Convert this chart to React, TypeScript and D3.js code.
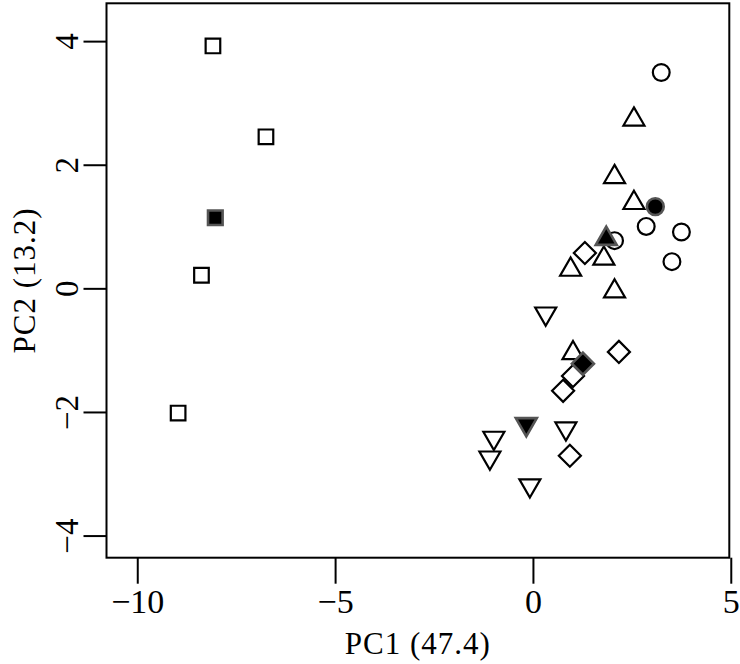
import * as d3 from "d3";

// PCA scores, one pair of arrays per group
const squarePC1 = [-8.10, -6.76, -8.39, -8.98];
const squarePC2 = [3.93, 2.46, 0.22, -2.01];
const circlePC1 = [3.23, 2.85, 3.74, 3.50, 2.05];
const circlePC2 = [3.50, 1.01, 0.92, 0.44, 0.78];
const triUpPC1 = [2.54, 2.05, 2.54, 1.78, 0.94, 2.05, 1.00];
const triUpPC2 = [2.74, 1.81, 1.39, 0.49, 0.31, -0.04, -1.04];
const diamondPC1 = [1.30, 1.00, 0.75, 2.16, 0.92];
const diamondPC2 = [0.58, -1.41, -1.65, -1.02, -2.70];
const triDownPC1 = [0.31, -1.00, -1.10, 0.82, -0.09];
const triDownPC2 = [-0.40, -2.41, -2.73, -2.26, -3.18];

// group centroids (the filled symbols)
const centroidShape = ["square", "circle", "triUp", "diamond", "triDown"];
const centroidPC1 = [-8.04, 3.08, 1.84, 1.25, -0.18];
const centroidPC2 = [1.15, 1.33, 0.81, -1.21, -2.19];

const xTicks = [-10, -5, 0, 5];
const yTicks = [-4, -2, 0, 2, 4];
const xTitle = "PC1 (47.4)";
const yTitle = "PC2 (13.2)";

const W = 740;
const H = 664;
const box = {left: 106.5, right: 729.3, top: 3.3, bottom: 557.7};

const fmt = (v: number) => (v < 0 ? "\u2212" + Math.abs(v) : String(v));

// R-like plotting symbols, centred on (0,0)
function shapePath(shape: string): string {
    const rad = 7.8;
    if (shape === "square") {
        const h = 7.3;
        return `M${-h},${-h}H${h}V${h}H${-h}Z`;
    }
    if (shape === "circle") {
        const r = 8.4;
        return `M${r},0A${r},${r} 0 1,1 ${-r},0A${r},${r} 0 1,1 ${r},0Z`;
    }
    if (shape === "diamond") {
        const d = rad * Math.SQRT2;
        return `M0,${-d}L${d},0L0,${d}L${-d},0Z`;
    }
    const tc0 = Math.sqrt(4 * Math.PI / (3 * Math.sqrt(3)));
    const top = tc0 * rad;
    const half = tc0 * Math.sqrt(3) / 2 * rad;
    const bot = tc0 / 2 * rad;
    if (shape === "triUp") return `M0,${-top}L${half},${bot}L${-half},${bot}Z`;
    return `M0,${top}L${half},${-bot}L${-half},${-bot}Z`;
}

export default function App() {
    const x = d3.scaleLinear([-10.79, 4.95], [box.left, box.right]);
    const y = d3.scaleLinear([-4.35, 4.62], [box.bottom, box.top]);

    const groups = [
        {shape: "square", xs: squarePC1, ys: squarePC2},
        {shape: "circle", xs: circlePC1, ys: circlePC2},
        {shape: "triUp", xs: triUpPC1, ys: triUpPC2},
        {shape: "diamond", xs: diamondPC1, ys: diamondPC2},
        {shape: "triDown", xs: triDownPC1, ys: triDownPC2},
    ];

    const font = "'Liberation Serif', 'Times New Roman', serif";

    return <div style={{position: "absolute", left: 0, top: 0}}>
        <svg width={W} height={H} viewBox={`0 0 ${W} ${H}`} style={{display: "block", background: "#fff"}}>
            {groups.map(g => g.xs.map((v, i) =>
                <path key={g.shape + i} d={shapePath(g.shape)}
                      transform={`translate(${x(v)},${y(g.ys[i])})`}
                      fill="none" stroke="#000" strokeWidth={2.2} strokeLinejoin="miter"/>
            ))}
            {centroidShape.map((s, i) =>
                <path key={"c" + i} d={shapePath(s)}
                      transform={`translate(${x(centroidPC1[i])},${y(centroidPC2[i])})`}
                      fill="#000" stroke="#555" strokeWidth={2.6}/>
            )}

            <rect x={box.left} y={box.top} width={box.right - box.left} height={box.bottom - box.top}
                  fill="none" stroke="#000" strokeWidth={2}/>

            {xTicks.map(t => <g key={"x" + t} transform={`translate(${x(t)},0)`}>
                <line y1={box.bottom} y2={box.bottom + 26} stroke="#000" strokeWidth={2}/>
                <text y={613} textAnchor="middle" fontFamily={font} fontSize={34}>{fmt(t)}</text>
            </g>)}

            {yTicks.map(t => <g key={"y" + t} transform={`translate(0,${y(t)})`}>
                <line x1={box.left} x2={box.left - 23} stroke="#000" strokeWidth={2}/>
                <text transform="translate(78,0) rotate(-90)" textAnchor="middle"
                      fontFamily={font} fontSize={33}>{fmt(t)}</text>
            </g>)}

            <text x={(box.left + box.right) / 2} y={654} textAnchor="middle"
                  fontFamily={font} fontSize={31} letterSpacing={1}>{xTitle}</text>
            <text transform={`translate(34.5,${(box.top + box.bottom) / 2}) rotate(-90)`} textAnchor="middle"
                  fontFamily={font} fontSize={31} letterSpacing={1}>{yTitle}</text>
        </svg>
    </div>;
}
